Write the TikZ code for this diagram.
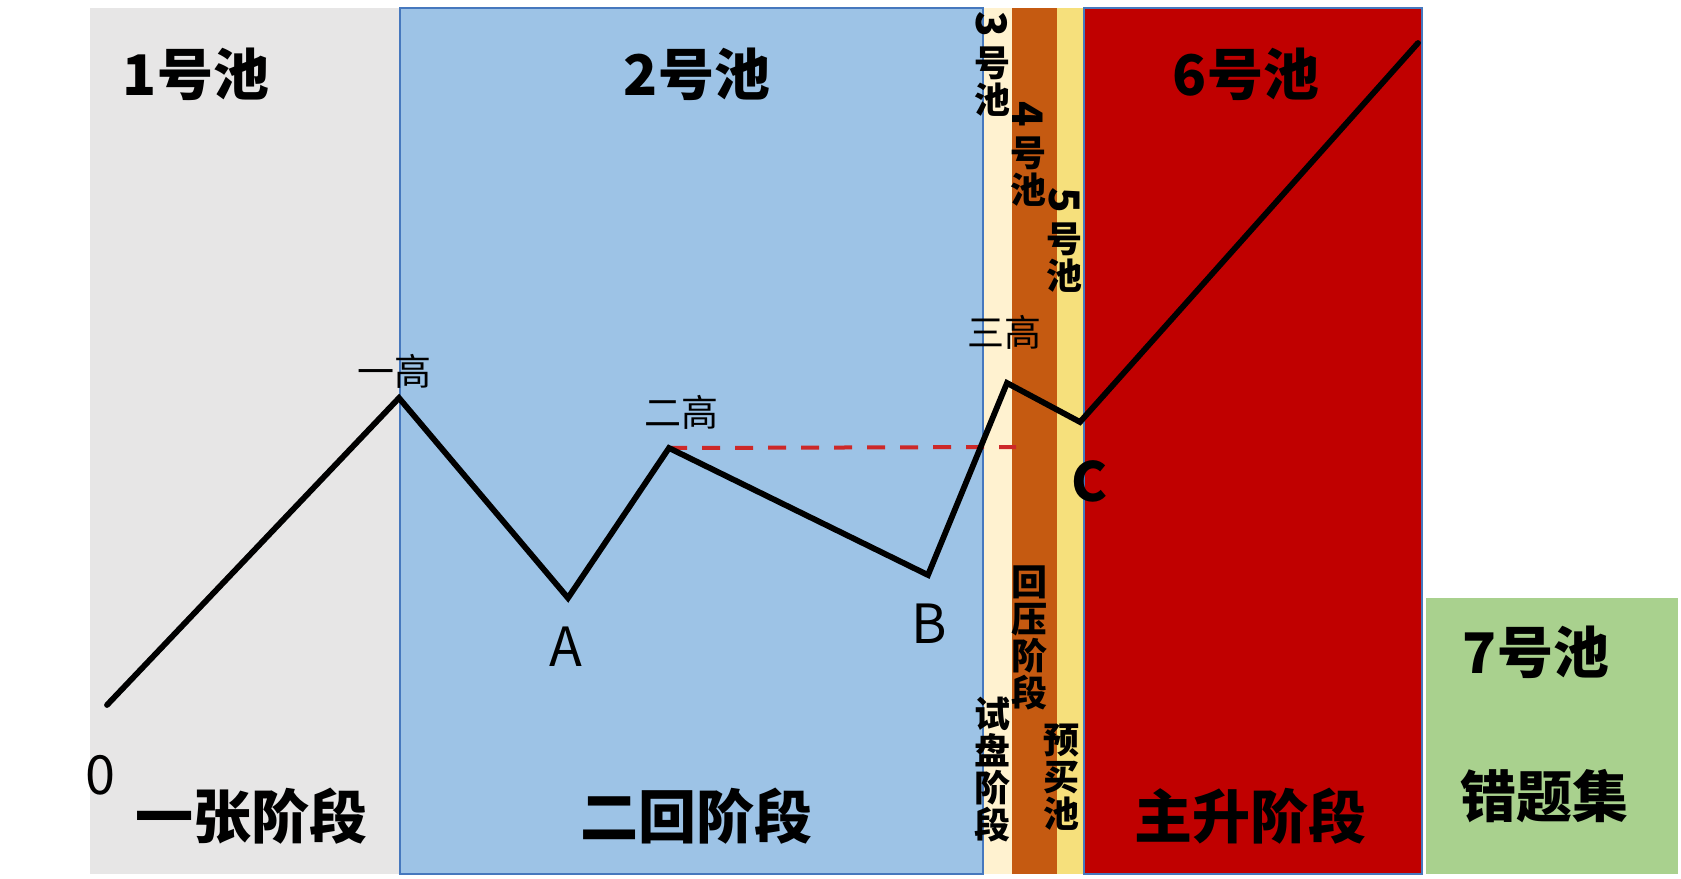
\documentclass[tikz,border=0pt]{standalone}
\usepackage{fontspec}
\usepackage{graphicx}
\setmainfont{Noto Sans CJK SC}
\usepackage{tikz}
\definecolor{poolgrey}{RGB}{231,230,230}
\definecolor{poolblue}{RGB}{157,195,230}
\definecolor{poolcream}{RGB}{255,242,208}
\definecolor{poolorange}{RGB}{197,90,17}
\definecolor{poolyellow}{RGB}{246,224,124}
\definecolor{poolred}{RGB}{192,0,0}
\definecolor{poolgreen}{RGB}{169,209,142}
\definecolor{edgeblue}{RGB}{70,120,190}
\definecolor{levelred}{RGB}{205,40,40}

\begin{document}
\begin{tikzpicture}[x=0.5pt,y=-0.5pt,
pool/.style={font=\fontsize{28}{30}\selectfont\bfseries, inner sep=0pt},
stage/.style={font=\fontsize{29}{31}\selectfont\bfseries, inner sep=0pt},
vtext/.style={font=\fontsize{18}{18.5}\selectfont\bfseries, align=center, inner sep=0pt},
peak/.style={font=\fontsize{18.5}{20}\selectfont, inner sep=0pt},
point/.style={font=\fontsize{27}{30}\selectfont, inner sep=0pt},
trend/.style={line width=2.9pt, line join=miter, line cap=round},
level/.style={draw=levelred, line width=2pt, dash pattern=on 9pt off 7.5pt}]
\useasboundingbox (0,0) rectangle (1681,878);
\fill[white] (0,0) rectangle (1681,878);
\fill[poolgrey] (90,8) rectangle (400,874);
\fill[poolcream] (983,8) rectangle (1012,874);
\fill[poolorange] (1012,8) rectangle (1057,874);
\fill[poolyellow] (1057,8) rectangle (1084,874);
\filldraw[fill=poolblue, draw=edgeblue, line width=0.7pt] (400,8) rectangle (983,874);
\filldraw[fill=poolred, draw=edgeblue, line width=0.7pt] (1084,8) rectangle (1422,874);
\fill[poolgreen] (1426,598) rectangle (1678,874);

\node[pool] (pool1) at (196,74) {1号池};
\node[pool] (pool2) at (697,74) {2号池};
\node[pool] (pool6) at (1246,74) {6号池};
\node[pool] (pool7) at (1536,652) {7号池};
\node[pool] (wrong) at (1544,796) {错题集};
\node[vtext] (pool3) at (992,64) {\rotatebox[origin=c]{-90}{\fontsize{21}{21}\selectfont 3}\\号\\池};
\node[vtext] (pool4) at (1028,154) {\rotatebox[origin=c]{-90}{\fontsize{21}{21}\selectfont 4}\\号\\池};
\node[vtext] (pool5) at (1064,240) {\rotatebox[origin=c]{-90}{\fontsize{21}{21}\selectfont 5}\\号\\池};
\node[vtext] (press) at (1029,638) {回\\压\\阶\\段};
\node[vtext] (probe) at (992,770) {试\\盘\\阶\\段};
\node[vtext] (prebuy) at (1061,777) {预\\买\\池};
\node[stage] (stage1) at (251,816) {一张阶段};
\node[stage] (stage2) at (696,816) {二回阶段};
\node[stage] (stage3) at (1250,816) {主升阶段};

\coordinate (p0) at (107,705);
\coordinate (h1) at (399,398);
\coordinate (pA) at (568,598);
\coordinate (h2) at (669,448);
\coordinate (pB) at (928,575);
\coordinate (h3) at (1007,383);
\coordinate (pC) at (1080,422);
\coordinate (top) at (1418,43);
\coordinate (levelend) at (1016,447);

\draw[level] (h2) -- (levelend);
\draw[trend] (p0) -- (h1) -- (pA) -- (h2) -- (pB) -- (h3) -- (pC) -- (top);

\node[point] (zero) at (100,775) {0};
\node[peak] (high1) at (394,371) {一高};
\node[peak] (high2) at (681,412) {二高};
\node[peak] (high3) at (1004,332) {三高};
\node[point] (labA) at (566,647) {A};
\node[point] (labB) at (929,624) {B};
\node[point, font=\fontsize{27}{30}\selectfont\bfseries] (labC) at (1089,481) {C};
\end{tikzpicture}
\end{document}
